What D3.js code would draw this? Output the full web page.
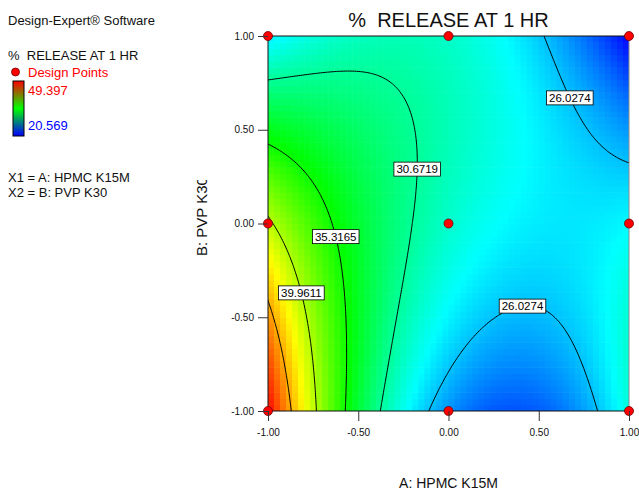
<!DOCTYPE html>
<html>
<head>
<meta charset="utf-8">
<script src="https://cdn.jsdelivr.net/npm/d3@7"></script>
<style>
    body { margin: 0; background: #fff; }
    svg { font-family: 'Liberation Sans', Arial, sans-serif; }
    text.pre { white-space: pre; }
</style>
</head>
<body>
<div id="graph-container"></div>
<script>
// DATA
const chartTitle = '%  RELEASE AT 1 HR'
const responseName = '%  RELEASE AT 1 HR'
const xTitle = 'A: HPMC K15M'
const yTitle = 'B: PVP K30'
const factorLines = ['X1 = A: HPMC K15M', 'X2 = B: PVP K30']

// coded levels of the two factors
const levelsA = [-1, 0, 1]
const levelsB = [-1, 0, 1]
// predicted response at the 3x3 design points (rows: B = -1, 0, 1 / cols: A = -1, 0, 1)
const predictedRows = [
    [49.397, 24.73, 28.80],
    [40.40, 29.20, 27.67],
    [27.20, 29.30, 20.569]
]
const designA = [-1, 0, 1, -1, 0, 1, -1, 0, 1]
const designB = [-1, -1, -1, 0, 0, 0, 1, 1, 1]

const responseMin = 20.569
const responseMax = 49.397
const contourLevels = [26.0274, 30.6719, 35.3165, 39.9611, 44.6057]
const tickValues = [-1, -0.5, 0, 0.5, 1]

// SETTINGS
const settings = {
    width: 639,
    height: 490,
    plot: { left: 268, right: 629, top: 36, bottom: 411 },
    cells: 60,
    grid: { n: 211, start: -1.05, step: 0.01 },
    // where each contour label sits (coded A, B), snapped to the line
    labelSpots: [
        { level: 26.0274, a: 0.70, b: 0.685 },
        { level: 30.6719, a: -0.17, b: 0.285 },
        { level: 35.3165, a: -0.61, b: -0.067 },
        { level: 39.9611, a: -0.80, b: -0.365 },
        { level: 26.0274, a: 0.40, b: -0.40 }
    ],
    rampColors: ['#0000ff', '#00ffff', '#00ff00', '#ffff00', '#ff0000']
}

// MODEL (quadratic interpolation through the design-point predictions)
function basis(t) {
    return [t * (t - 1) / 2, 1 - t * t, t * (t + 1) / 2]
}

function predict(a, b) {
    const la = basis(a)
    const lb = basis(b)
    let sum = 0
    for (let j = 0; j < levelsB.length; j++) {
        for (let i = 0; i < levelsA.length; i++) {
            sum += lb[j] * la[i] * predictedRows[j][i]
        }
    }
    return sum
}

// SCALES
const p = settings.plot
const x = d3.scaleLinear().domain([-1, 1]).range([p.left, p.right])
const y = d3.scaleLinear().domain([-1, 1]).range([p.bottom, p.top])

const color = d3.scaleLinear()
    .domain(d3.range(5).map(k => responseMin + k * (responseMax - responseMin) / 4))
    .range(settings.rampColors)
    .clamp(true)

const svg = d3.select('#graph-container').append('svg')
    .attr('width', settings.width)
    .attr('height', settings.height)

const defs = svg.append('defs')
defs.append('clipPath').attr('id', 'plot-clip')
    .append('rect')
    .attr('x', p.left).attr('y', p.top)
    .attr('width', p.right - p.left).attr('height', p.bottom - p.top)

// HEATMAP
const bx = d3.scaleBand().domain(d3.range(settings.cells)).range([p.left, p.right])
const by = d3.scaleBand().domain(d3.range(settings.cells)).range([p.bottom, p.top])
const cells = []
for (let j = 0; j < settings.cells; j++) {
    for (let i = 0; i < settings.cells; i++) {
        const a = x.invert(bx(i) + bx.bandwidth() / 2)
        const b = y.invert(by(j) + by.bandwidth() / 2)
        cells.push({ i, j, v: predict(a, b) })
    }
}

svg.append('g')
    .attr('clip-path', 'url(#plot-clip)')
    .selectAll('rect')
    .data(cells)
    .enter().append('rect')
    .attr('x', d => bx(d.i))
    .attr('y', d => by(d.j))
    .attr('width', bx.bandwidth() + 0.6)
    .attr('height', by.bandwidth() + 0.6)
    .attr('fill', d => color(d.v))

// CONTOURS
const g = settings.grid
const values = new Array(g.n * g.n)
for (let j = 0; j < g.n; j++) {
    for (let i = 0; i < g.n; i++) {
        values[j * g.n + i] = predict(g.start + i * g.step, g.start + j * g.step)
    }
}
const gridToCoded = c => g.start + (c - 0.5) * g.step
const contours = d3.contours().size([g.n, g.n]).thresholds(contourLevels)(values)

const projection = d3.geoTransform({
    point: function (px, py) { this.stream.point(x(gridToCoded(px)), y(gridToCoded(py))) }
})
const path = d3.geoPath(projection)

svg.append('g')
    .attr('clip-path', 'url(#plot-clip)')
    .selectAll('path')
    .data(contours)
    .enter().append('path')
    .attr('d', path)
    .attr('fill', 'none')
    .attr('stroke', '#000')
    .attr('stroke-width', 1)

// PLOT FRAME
const frame = svg.append('g')
frame.append('line').attr('x1', x(-1)).attr('x2', x(1)).attr('y1', y(1)).attr('y2', y(1)).attr('stroke', '#111')
frame.append('line').attr('x1', x(1)).attr('x2', x(1)).attr('y1', y(1)).attr('y2', y(-1)).attr('stroke', '#888')
frame.append('line').attr('x1', x(-1)).attr('x2', x(-1)).attr('y1', y(1)).attr('y2', y(-1)).attr('stroke', '#111')
frame.append('line').attr('x1', x(-1)).attr('x2', x(1)).attr('y1', y(-1)).attr('y2', y(-1)).attr('stroke', '#111')

// CONTOUR LABELS
const labelGroup = svg.append('g')
settings.labelSpots.forEach(spot => {
    const contour = contours.find(c => Math.abs(c.value - spot.level) < 1e-9)
    let best = null
    let bestDist = Infinity
    contour.coordinates.forEach(poly => poly.forEach(ring => ring.forEach(pt => {
        const a = gridToCoded(pt[0])
        const b = gridToCoded(pt[1])
        if (a < -1 || a > 1 || b < -1 || b > 1) return
        const dist = (a - spot.a) ** 2 + (b - spot.b) ** 2
        if (dist < bestDist) { bestDist = dist; best = [a, b] }
    })))
    if (!best) return
    const cx = x(best[0])
    const cy = y(best[1])
    const lbl = labelGroup.append('g')
    const rect = lbl.append('rect')
    const txt = lbl.append('text')
        .attr('x', cx)
        .attr('y', cy)
        .attr('dy', '0.36em')
        .attr('text-anchor', 'middle')
        .attr('font-size', 11.5)
        .attr('fill', '#000')
        .text(spot.level.toFixed(4))
    const w = txt.node().getComputedTextLength()
    rect.attr('x', cx - w / 2 - 2.5)
        .attr('y', cy - 7)
        .attr('width', w + 5)
        .attr('height', 14)
        .attr('fill', '#fff')
        .attr('stroke', '#000')
        .attr('stroke-width', 0.8)
})

// DESIGN POINTS
svg.append('g')
    .selectAll('circle')
    .data(designA.map((a, k) => ({ a, b: designB[k] })))
    .enter().append('circle')
    .attr('cx', d => x(d.a))
    .attr('cy', d => y(d.b))
    .attr('r', 4.5)
    .attr('fill', '#ff0000')
    .attr('stroke', '#700000')
    .attr('stroke-width', 0.8)

// AXES
const fmt = d => d.toFixed(2)
const xAxis = d3.axisBottom(x).tickValues(tickValues).tickFormat(fmt).tickSize(10).tickSizeOuter(0).tickPadding(8)
const yAxis = d3.axisLeft(y).tickValues(tickValues).tickFormat(fmt).tickSize(10).tickSizeOuter(0).tickPadding(4)

const xg = svg.append('g').attr('transform', `translate(0, ${p.bottom})`).call(xAxis)
const yg = svg.append('g').attr('transform', `translate(${p.left}, 0)`).call(yAxis)
;[xg, yg].forEach(ax => {
    ax.select('.domain').remove()
    ax.selectAll('.tick line').attr('stroke', '#333')
    ax.selectAll('.tick text').attr('font-size', 10).attr('fill', '#111')
        .attr('font-family', "'Liberation Sans', Arial, sans-serif")
})

// TITLES
svg.append('text')
    .attr('class', 'pre')
    .attr('x', (p.left + p.right) / 2)
    .attr('y', 27)
    .attr('text-anchor', 'middle')
    .attr('font-size', 20)
    .attr('fill', '#111')
    .text(chartTitle)

svg.append('text')
    .attr('x', (p.left + p.right) / 2)
    .attr('y', 488)
    .attr('text-anchor', 'middle')
    .attr('font-size', 14)
    .attr('fill', '#111')
    .text(xTitle)

defs.append('clipPath').attr('id', 'ytitle-clip')
    .append('rect').attr('x', 180).attr('y', 180).attr('width', 40).attr('height', 100)
svg.append('g')
    .attr('clip-path', 'url(#ytitle-clip)')
    .append('text')
    .attr('transform', 'translate(207, 256) rotate(-90)')
    .attr('font-size', 15)
    .attr('fill', '#111')
    .text(yTitle)

// LEGEND PANEL
const legend = svg.append('g').attr('font-size', 13)
legend.append('text').attr('x', 8).attr('y', 25).attr('fill', '#111').text('Design-Expert\u00ae Software')
legend.append('text').attr('class', 'pre').attr('x', 8).attr('y', 60).attr('fill', '#111').text(responseName)
legend.append('circle').attr('cx', 15.5).attr('cy', 72).attr('r', 4).attr('fill', '#ff0000').attr('stroke', '#700000').attr('stroke-width', 0.8)
legend.append('text').attr('x', 28).attr('y', 77).attr('fill', '#ff0000').text('Design Points')

const grad = defs.append('linearGradient').attr('id', 'bar-grad')
    .attr('x1', 0).attr('y1', 0).attr('x2', 0).attr('y2', 1)
grad.append('stop').attr('offset', '0%').attr('stop-color', '#ff0000')
grad.append('stop').attr('offset', '50%').attr('stop-color', '#00ff00')
grad.append('stop').attr('offset', '100%').attr('stop-color', '#0000ff')

legend.append('rect').attr('x', 13).attr('y', 81).attr('width', 11).attr('height', 55)
    .attr('fill', 'url(#bar-grad)').attr('stroke', '#000').attr('stroke-width', 1)
legend.append('text').attr('x', 28).attr('y', 95).attr('fill', '#ff0000').text(responseMax.toFixed(3))
legend.append('text').attr('x', 28).attr('y', 130).attr('fill', '#0000ff').text(responseMin.toFixed(3))

legend.selectAll('.factor')
    .data(factorLines)
    .enter().append('text')
    .attr('class', 'factor')
    .attr('x', 8)
    .attr('y', (d, k) => 182 + k * 15)
    .attr('fill', '#111')
    .text(d => d)
</script>
</body>
</html>
